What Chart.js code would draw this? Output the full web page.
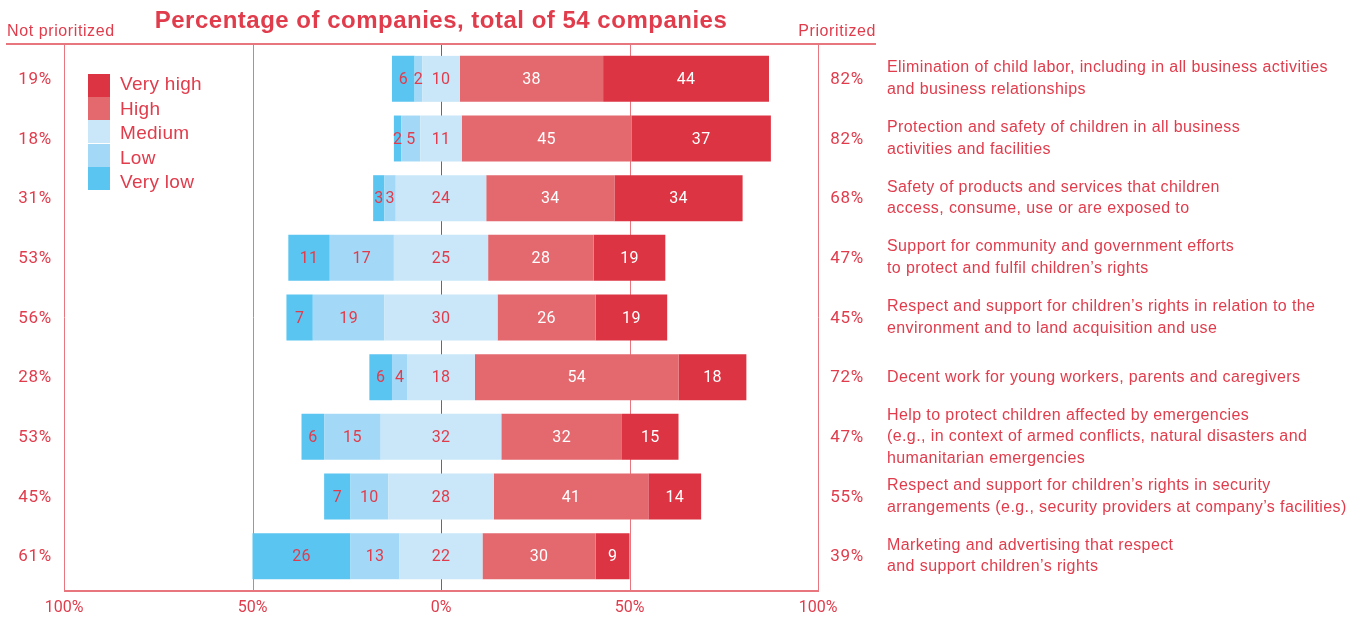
<!DOCTYPE html>
<html>
<head>
<meta charset="utf-8">
<script src="https://cdn.jsdelivr.net/npm/chart.js@4/dist/chart.umd.min.js"></script>
<style>
  html, body { margin: 0; padding: 0; background: #fff; }
  #wrap { position: relative; width: 1364px; height: 617px; }
</style>
</head>
<body>
<div id="wrap"><canvas id="c"></canvas></div>
<script>
const categories = [
  ["Elimination of child labor, including in all business activities", "and business relationships"],
  ["Protection and safety of children in all business", "activities and facilities"],
  ["Safety of products and services that children", "access, consume, use or are exposed to"],
  ["Support for community and government efforts", "to protect and fulfil children\u2019s rights"],
  ["Respect and support for children\u2019s rights in relation to the", "environment and to land acquisition and use"],
  ["Decent work for young workers, parents and caregivers"],
  ["Help to protect children affected by emergencies", "(e.g., in context of armed conflicts, natural disasters and", "humanitarian emergencies"],
  ["Respect and support for children\u2019s rights in security", "arrangements (e.g., security providers at company\u2019s facilities)"],
  ["Marketing and advertising that respect", "and support children\u2019s rights"]
];
const veryLow  = [6, 2, 3, 11, 7, 6, 6, 7, 26];
const low      = [2, 5, 3, 17, 19, 4, 15, 10, 13];
const medium   = [10, 11, 24, 25, 30, 18, 32, 28, 22];
const high     = [38, 45, 34, 28, 26, 54, 32, 41, 30];
const veryHigh = [44, 37, 34, 19, 19, 18, 15, 14, 9];
const notPrioritized = ["19%", "18%", "31%", "53%", "56%", "28%", "53%", "45%", "61%"];
const prioritized    = ["82%", "82%", "68%", "47%", "45%", "72%", "47%", "55%", "39%"];
const xTicks = [-100, -50, 0, 50, 100];
const legendNames = ["Very high", "High", "Medium", "Low", "Very low"];

const C = {
  vh: "#dc3442", h: "#e3696f", m: "#c9e7f8", l: "#a3d9f6", vl: "#5bc5f1",
  text: "#e03c4c", axis: "#e8767f", zero: "#dc3545"
};
const legendColors = [C.vh, C.h, C.m, C.l, C.vl];
const SANS = "'Liberation Sans', Arial, sans-serif";
const NUM = "Roboto, 'Liberation Sans', sans-serif";

const idx = categories.map((_, i) => i);

const datasets = [
  { key: "mNeg", data: medium.map(v => -v / 2), backgroundColor: C.m },
  { key: "l",    data: low.map(v => -v),        backgroundColor: C.l, vals: low, tc: C.text },
  { key: "vl",   data: veryLow.map(v => -v),    backgroundColor: C.vl, vals: veryLow, tc: C.text },
  { key: "mPos", data: medium.map(v => v / 2),  backgroundColor: C.m },
  { key: "h",    data: high,                    backgroundColor: C.h, vals: high, tc: "#ffffff" },
  { key: "vh",   data: veryHigh,                backgroundColor: C.vh, vals: veryHigh, tc: "#ffffff" }
].map(d => Object.assign(d, { stack: "s", borderWidth: 0, barPercentage: 0.77, categoryPercentage: 1 }));

function spacing(ctx, px) { if ("letterSpacing" in ctx) ctx.letterSpacing = px + "px"; }

const decor = {
  id: "decor",
  beforeDatasetsDraw(chart) {
    const ctx = chart.ctx, xs = chart.scales.x;
    const top = 44, bottom = 591;
    ctx.save();
    ctx.lineWidth = 1;
    xTicks.forEach(t => {
      const x = Math.round(xs.getPixelForValue(t)) + 0.5;
      ctx.strokeStyle = t === 0 ? C.zero : C.axis;
      ctx.beginPath(); ctx.moveTo(x, top); ctx.lineTo(x, bottom); ctx.stroke();
    });
    ctx.strokeStyle = C.axis;
    ctx.lineWidth = 2;
    ctx.beginPath(); ctx.moveTo(6, top); ctx.lineTo(876, top); ctx.stroke();
    ctx.beginPath();
    ctx.moveTo(xs.getPixelForValue(-100), bottom); ctx.lineTo(xs.getPixelForValue(100) + 1, bottom); ctx.stroke();
    ctx.restore();
  },
  afterDatasetsDraw(chart) {
    const ctx = chart.ctx, xs = chart.scales.x, ys = chart.scales.y;
    ctx.save();
    ctx.textAlign = "center";
    ctx.textBaseline = "middle";
    ctx.font = "16px " + NUM;
    spacing(ctx, 0.3);
    // segment labels
    chart.data.datasets.forEach((ds, di) => {
      if (!ds.vals) return;
      const meta = chart.getDatasetMeta(di);
      meta.data.forEach((el, i) => {
        const cx = (el.x + el.base) / 2;
        ctx.fillStyle = ds.tc;
        ctx.fillText(String(ds.vals[i]), cx, el.y + 1);
      });
    });
    // medium labels centred on the zero line
    const x0 = xs.getPixelForValue(0);
    idx.forEach(i => {
      ctx.fillStyle = C.text;
      ctx.fillText(String(medium[i]), x0, ys.getPixelForValue(i) + 1);
    });
    // side percentages
    ctx.fillStyle = C.text;
    ctx.font = "17px " + NUM;
    spacing(ctx, 0.6);
    idx.forEach(i => {
      const y = ys.getPixelForValue(i) + 1;
      ctx.fillText(notPrioritized[i], 35, y);
      ctx.fillText(prioritized[i], 847, y);
    });
    // category labels
    ctx.textAlign = "left";
    ctx.font = "16px " + SANS;
    spacing(ctx, 0.4);
    idx.forEach(i => {
      const lines = categories[i];
      const lh = 21.5;
      const y0 = ys.getPixelForValue(i) - (lines.length - 1) * lh / 2;
      lines.forEach((ln, k) => ctx.fillText(ln, 887, y0 + k * lh));
    });
    // headers
    ctx.font = "16px " + SANS;
    spacing(ctx, 0.6);
    ctx.fillText("Not prioritized", 7, 32);
    ctx.textAlign = "right";
    ctx.fillText("Prioritized", 876, 32);
    ctx.textAlign = "center";
    ctx.font = "bold 24px " + SANS;
    spacing(ctx, 0.5);
    ctx.fillText("Percentage of companies, total of 54 companies", x0, 21);
    // legend
    ctx.textAlign = "left";
    ctx.font = "19px " + SANS;
    spacing(ctx, 0.3);
    legendNames.forEach((name, k) => {
      const y = 74 + k * 23.2;
      ctx.fillStyle = legendColors[k];
      ctx.fillRect(88, Math.round(y), 22, 23);
      ctx.fillStyle = C.text;
      ctx.fillText(name, 120, 85 + k * 24.5);
    });
    ctx.restore();
  }
};

new Chart(document.getElementById("c"), {
  type: "bar",
  data: { labels: idx.map(String), datasets },
  options: {
    indexAxis: "y",
    responsive: true,
    maintainAspectRatio: false,
    animation: false,
    layout: { padding: { left: 64, right: 546, top: 49, bottom: 0 } },
    plugins: { legend: { display: false }, tooltip: { enabled: false } },
    scales: {
      x: {
        type: "linear", min: -100, max: 100, stacked: true,
        grid: { display: false, drawTicks: false },
        border: { display: false },
        afterBuildTicks(scale) { scale.ticks = xTicks.map(v => ({ value: v })); },
        afterFit(scale) { scale.height = 31; },
        ticks: {
          padding: 12,
          color: C.text,
          font: { family: NUM, size: 16 },
          maxRotation: 0,
          callback: v => Math.abs(v) + "%"
        }
      },
      y: { type: "category", stacked: true, display: false, offset: true }
    }
  },
  plugins: [decor]
});
</script>
</body>
</html>
